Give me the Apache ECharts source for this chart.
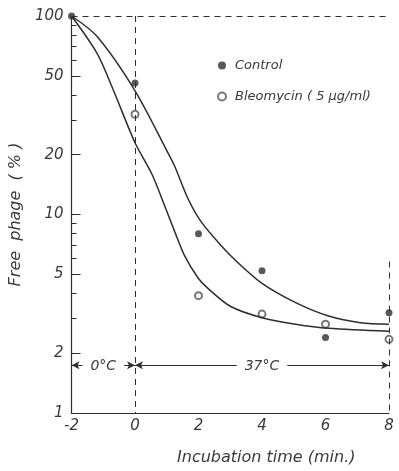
<!DOCTYPE html>
<html>
<head>
<meta charset="utf-8">
<script src="https://cdn.jsdelivr.net/npm/echarts@6/dist/echarts.min.js"></script>
<style>
  html, body { margin: 0; padding: 0; background: #fff; }
  #chart { width: 399px; height: 471px; }
</style>
</head>
<body>
<div id="chart"></div>
<script>
// measured points
const controlPoints = [[-2, 100], [0, 46], [2, 8.0], [4, 5.2], [6, 2.4], [8, 3.2]];
const bleoPoints = [[0, 32], [2, 3.9], [4, 3.15], [6, 2.8], [8, 2.35]];

// hand drawn fit curves
const controlCurve = [[-2, 100], [-1.2, 79], [0, 42], [1, 21], [1.25, 17.5], [1.67, 12], [2.08, 9.2], [2.7, 7.0], [3.2, 5.8], [4, 4.5], [5.06, 3.6], [6.1, 3.08], [7.1, 2.85], [8, 2.8]];
const bleoCurve = [[-2, 100], [-1.2, 65], [-0.7, 43], [0, 23], [0.53, 16], [0.94, 11], [1.25, 8.2], [1.56, 6.2], [1.98, 4.8], [2.28, 4.27], [3, 3.45], [4, 3.02], [5.06, 2.8], [6.1, 2.67], [8, 2.58]];

const yLabels = [1, 2, 5, 10, 20, 50, 100];
const yMinorTicks = [2, 3, 4, 5, 6, 7, 8, 9, 10, 20, 30, 40, 50, 60, 70, 80, 90];
const yMajorTicks = [2, 5, 10, 20, 50];

// temperature phases
const phaseY = 1.74;
const phases = [
  { from: -2, to: 0, text: '0°C' },
  { from: 0, to: 8, text: '37°C' }
];

const ink = '#2e2e2e';
const font = 'DejaVu Sans';

const chart = echarts.init(document.getElementById('chart'));

const guideLines = [
  [{ coord: [-2, 100] }, { coord: [8, 100] }],
  [{ coord: [0, 100] }, { coord: [0, 1] }],
  [{ coord: [8, 5.8] }, { coord: [8, 1] }]
];

const option = {
  backgroundColor: '#fff',
  animation: false,
  grid: { left: 68, right: 10, top: 16, bottom: 55 },
  legend: {
    orient: 'vertical',
    left: 212,
    top: 54,
    itemGap: 18,
    itemWidth: 8,
    itemHeight: 8,
    data: ['Control', 'Bleomycin ( 5 μg/ml)'],
    textStyle: { fontFamily: font, fontStyle: 'italic', fontSize: 13, color: '#3a3a3a', padding: [0, 0, 0, 4] }
  },
  xAxis: {
    type: 'value',
    min: -2,
    max: 8,
    interval: 2,
    name: 'Incubation time (min.)',
    nameLocation: 'middle',
    nameGap: 37,
    nameTextStyle: { fontFamily: font, fontStyle: 'italic', fontSize: 16, color: '#3a3a3a', padding: [0, 0, 0, 72] },
    axisLine: { onZero: false, lineStyle: { color: ink, width: 1.2 } },
    axisTick: { show: false },
    splitLine: { show: false },
    axisLabel: { fontFamily: font, fontStyle: 'italic', fontSize: 15, color: '#3a3a3a', margin: 6 }
  },
  yAxis: [{
    type: 'log',
    logBase: 10,
    min: 1,
    max: 100,
    name: 'Free  phage  ( % )',
    nameLocation: 'middle',
    nameGap: 42,
    nameTextStyle: { fontFamily: font, fontStyle: 'italic', fontSize: 16, color: '#3a3a3a' },
    axisLine: { show: true, onZero: false, lineStyle: { color: ink, width: 1.2 } },
    axisTick: { show: true, inside: true, length: 5, customValues: yMinorTicks, lineStyle: { color: ink } },
    splitLine: { show: false },
    axisLabel: { customValues: yLabels, fontFamily: font, fontStyle: 'italic', fontSize: 15, color: '#3a3a3a', margin: 8 }
  }, {
    type: 'log',
    logBase: 10,
    min: 1,
    max: 100,
    position: 'left',
    axisLine: { show: false, onZero: false },
    axisTick: { show: true, inside: true, length: 9, customValues: yMajorTicks, lineStyle: { color: ink } },
    axisLabel: { show: false },
    splitLine: { show: false }
  }],
  series: [
    {
      name: 'Control fit',
      type: 'line',
      data: controlCurve,
      smooth: 0.3,
      showSymbol: false,
      lineStyle: { color: ink, width: 1.5 },
      markLine: {
        silent: true,
        symbol: 'none',
        lineStyle: { color: ink, type: [6, 5], width: 1 },
        label: { show: false },
        data: guideLines
      }
    },
    {
      name: 'Bleomycin fit',
      type: 'line',
      data: bleoCurve,
      smooth: 0.3,
      showSymbol: false,
      lineStyle: { color: ink, width: 1.5 },
      markLine: {
        silent: true,
        symbol: ['arrow', 'arrow'],
        symbolSize: [6, 8],
        lineStyle: { color: ink, type: 'solid', width: 1 },
        label: {
          show: true,
          position: 'middle',
          distance: -8,
          fontFamily: font,
          fontStyle: 'italic',
          fontSize: 14,
          color: '#3a3a3a',
          backgroundColor: '#fff',
          padding: [0, 8],
          formatter: p => p.name
        },
        data: phases.map(p => [
          { name: p.text, coord: [p.from, phaseY] },
          { coord: [p.to, phaseY] }
        ])
      }
    },
    {
      name: 'Control',
      type: 'scatter',
      data: controlPoints,
      symbol: 'circle',
      symbolSize: 7,
      itemStyle: { color: ink }
    },
    {
      name: 'Bleomycin ( 5 μg/ml)',
      type: 'scatter',
      data: bleoPoints,
      symbol: 'emptyCircle',
      symbolSize: 7,
      itemStyle: { color: '#555', borderWidth: 1 }
    }
  ]
};

chart.setOption(option);
</script>
</body>
</html>
